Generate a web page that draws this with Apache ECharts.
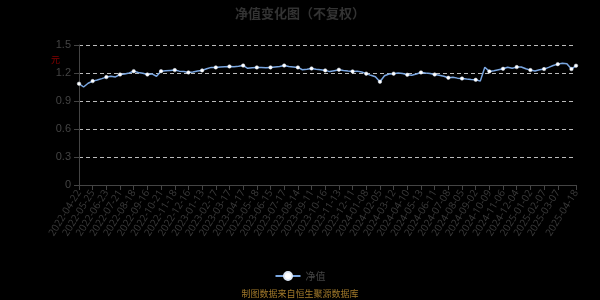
<!DOCTYPE html>
<html>
<head>
<meta charset="utf-8">
<script src="https://cdn.jsdelivr.net/npm/echarts@6/dist/echarts.min.js"></script>
<style>html,body{margin:0;padding:0;background:#000;}#c{width:600px;height:300px;}</style>
</head>
<body>
<div id="c"></div>
<script>
const dates = [
'2022-04-22','2022-05-06','2022-05-16',
'2022-05-25','2022-06-06','2022-06-14',
'2022-06-23','2022-07-01','2022-07-12',
'2022-07-21','2022-07-29','2022-08-09',
'2022-08-18','2022-08-26','2022-09-06',
'2022-09-16','2022-09-26','2022-10-13',
'2022-10-21','2022-10-31','2022-11-08',
'2022-11-18','2022-11-28','2022-12-06',
'2022-12-16','2022-12-26','2023-01-04',
'2023-01-13','2023-01-31','2023-02-08',
'2023-02-17','2023-02-27','2023-03-07',
'2023-03-17','2023-03-27','2023-04-04',
'2023-04-17','2023-04-25','2023-05-09',
'2023-05-18','2023-05-26','2023-06-05',
'2023-06-15','2023-06-27','2023-07-06',
'2023-07-17','2023-07-25','2023-08-02',
'2023-08-14','2023-08-22','2023-08-30',
'2023-09-11','2023-09-19','2023-10-09',
'2023-10-16','2023-10-24','2023-11-01',
'2023-11-13','2023-11-21','2023-11-29',
'2023-12-11','2023-12-19','2023-12-27',
'2024-01-08','2024-01-16','2024-01-24',
'2024-02-05','2024-02-22','2024-03-01',
'2024-03-12','2024-03-20','2024-03-28',
'2024-04-10','2024-04-18','2024-04-26',
'2024-05-13','2024-05-21','2024-05-29',
'2024-06-11','2024-06-19','2024-06-27',
'2024-07-08','2024-07-16','2024-07-24',
'2024-08-05','2024-08-13','2024-08-21',
'2024-09-02','2024-09-12','2024-09-30',
'2024-10-09','2024-10-17','2024-10-25',
'2024-11-06','2024-11-14','2024-11-22',
'2024-12-04','2024-12-12','2024-12-20',
'2025-01-02','2025-01-10','2025-01-20',
'2025-02-07','2025-02-17','2025-02-25',
'2025-03-07','2025-03-17','2025-03-27',
'2025-04-07','2025-04-18'
];
const nav = [
1.085,1.050,1.090,
1.113,1.125,1.140,
1.156,1.165,1.158,
1.184,1.190,1.200,
1.220,1.205,1.198,
1.184,1.190,1.165,
1.220,1.225,1.228,
1.231,1.220,1.215,
1.206,1.210,1.222,
1.228,1.245,1.260,
1.260,1.265,1.268,
1.270,1.268,1.272,
1.280,1.250,1.255,
1.260,1.258,1.255,
1.260,1.265,1.270,
1.280,1.270,1.265,
1.260,1.235,1.240,
1.249,1.240,1.235,
1.228,1.215,1.225,
1.235,1.228,1.222,
1.217,1.220,1.210,
1.193,1.175,1.160,
1.106,1.170,1.190,
1.193,1.200,1.195,
1.181,1.175,1.190,
1.206,1.200,1.195,
1.184,1.175,1.165,
1.149,1.155,1.145,
1.141,1.135,1.130,
1.127,1.113,1.262,
1.217,1.225,1.235,
1.245,1.262,1.250,
1.263,1.265,1.245,
1.231,1.222,1.235,
1.242,1.260,1.280,
1.295,1.305,1.300,
1.242,1.278
];
const yTicks = {min: 0, max: 1.5, interval: 0.3};
const lastIdx = dates.length - 1;
const showIdx = (i) => (i % 3 === 0 && i !== lastIdx - 1) || i === lastIdx;
const symIdx = (i) => i % 3 === 0 || i === lastIdx;

const chart = echarts.init(document.getElementById('c'), null, {renderer: 'canvas'});
chart.setOption({
  backgroundColor: '#000',
  animation: false,
  title: {
    text: '净值变化图（不复权）',
    left: 'center', top: 2,
    textStyle: {color: '#333', fontSize: 13, fontWeight: 'bold', fontFamily: 'Noto Sans CJK SC'}
  },
  legend: {
    bottom: 14, left: 'center',
    data: ['净值'],
    itemWidth: 25, itemHeight: 10,
    textStyle: {color: '#444', fontSize: 10, fontFamily: 'Noto Sans CJK SC'}
  },
  graphic: [{
    type: 'text', left: 'center', bottom: 2,
    style: {text: '制图数据来自恒生聚源数据库', fill: '#a0782a', fontSize: 9, fontFamily: 'Noto Sans CJK SC'}
  }, {
    type: 'text', left: 51, top: 55,
    style: {text: '元', fill: '#8b0000', fontSize: 9, fontFamily: 'Noto Sans CJK SC'}
  }],
  grid: {left: 79, right: 24, top: 45, bottom: 115},
  xAxis: {
    type: 'category',
    data: dates,
    boundaryGap: false,
    axisLine: {lineStyle: {color: '#444'}},
    axisTick: {interval: (i) => showIdx(i), lineStyle: {color: '#444'}},
    axisLabel: {interval: (i) => showIdx(i), rotate: 58, color: '#3c3c3c', fontSize: 10, margin: 6, fontFamily: 'Open Sans'}
  },
  yAxis: {
    type: 'value',
    min: yTicks.min, max: yTicks.max, interval: yTicks.interval,
    axisLine: {show: true, lineStyle: {color: '#444'}},
    axisTick: {show: true, lineStyle: {color: '#444'}},
    axisLabel: {color: '#444', fontSize: 11, margin: 8},
    splitLine: {lineStyle: {color: '#bbb', type: [4, 3], width: 1}}
  },
  series: [{
    name: '净值',
    type: 'line',
    data: nav,
    showSymbol: true,
    showAllSymbol: true,
    symbol: 'circle',
    symbolSize: (v, p) => symIdx(p.dataIndex) ? 3.5 : 0,
    itemStyle: {color: '#fff', borderColor: '#dfe9f7', borderWidth: 0.5},
    lineStyle: {color: '#7aa6e0', width: 1.5}
  }]
});
</script>
</body>
</html>
